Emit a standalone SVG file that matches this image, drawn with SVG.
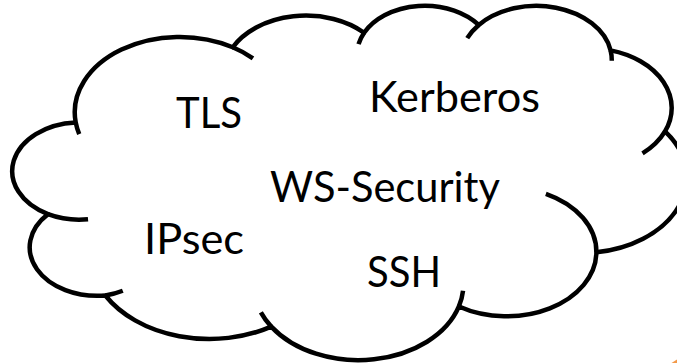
<svg xmlns="http://www.w3.org/2000/svg" width="677" height="363" viewBox="0 0 677 363">
  <style>
    .outline { fill: #ffffff; stroke: #000000; stroke-width: 4.5; stroke-linejoin: round; vector-effect: non-scaling-stroke; }
    .stub { fill: none; stroke: #000000; stroke-width: 4.5; stroke-linecap: butt; vector-effect: non-scaling-stroke; }
    .label { font-family: Lato, "Open Sans", "Liberation Sans", sans-serif; font-size: 43px; fill: #000000; }
  </style>
  <rect x="0" y="0" width="677" height="363" fill="#ffffff"/>

  <!-- cloud shape, drawn in a 43200 x 43200 unit box -->
  <g id="cloud" transform="translate(15.1,4.6) scale(0.01554,0.0082)">
    <path class="outline" d="M3900,14370
      A6753,9190 0 0 1 14005.6,5202.6
      A5333,7267 0 0 1 22459.6,3434.9
      A4365,5945 0 0 1 29836.3,2481.4
      A4857,6595 0 0 1 38320.7,5578
      A5333,7273 0 0 1 41820.8,15462.2
      A6775,9220 0 0 1 37406.4,30204.9
      A5785,7867 0 0 1 28558,36815.1
      A6752,9215 0 0 1 16484.5,39270.6
      A7720,10543 0 0 1 5807.7,35476.5
      A4360,5918 0 0 1 2118,25552.4
      A4345,5945 0 0 1 3900,14370 Z"/>
    <!-- inner arc ends where the puffs meet -->
    <path class="stub" d="M4693,26177 A4345,5945 0 0 1 2118,25552.4"/>
    <path class="stub" d="M6928,34899 A4360,5918 0 0 1 5807.7,35476.5"/>
    <path class="stub" d="M16484.5,39270.6 A6752,9215 0 0 1 15814.7,37527.1"/>
    <path class="stub" d="M28824.6,34906.3 A6752,9215 0 0 1 28558,36815.1"/>
    <path class="stub" d="M34154.7,23069.1 A5785,7867 0 0 1 37406.4,30204.9"/>
    <path class="stub" d="M41820.8,15462.2 A5333,7273 0 0 1 40373.4,18137.2"/>
    <path class="stub" d="M38320.7,5578 A4857,6595 0 0 1 38397.1,6841.5"/>
    <path class="stub" d="M29093.5,4095.2 A4857,6595 0 0 1 29836.3,2481.4"/>
    <path class="stub" d="M22100.9,4823.8 A4365,5945 0 0 1 22459.6,3434.9"/>
    <path class="stub" d="M14005.6,5202.6 A6753,9190 0 0 1 15305.1,6550.9"/>
    <path class="stub" d="M4126.7,15788.6 A6753,9190 0 0 1 3900,14370"/>
  </g>

  <g id="label-tls"><text class="label" x="176" y="128" textLength="66" lengthAdjust="spacingAndGlyphs">TLS</text></g>
  <g id="label-kerberos"><text class="label" x="369" y="112" textLength="171" lengthAdjust="spacingAndGlyphs">Kerberos</text></g>
  <g id="label-ws-security"><text class="label" x="270" y="202" textLength="230" lengthAdjust="spacingAndGlyphs">WS-Security</text></g>
  <g id="label-ipsec"><text class="label" x="144" y="254" textLength="100" lengthAdjust="spacingAndGlyphs">IPsec</text></g>
  <g id="label-ssh"><text class="label" x="367" y="287" textLength="74" lengthAdjust="spacingAndGlyphs">SSH</text></g>

  <!-- corner of a shape just inside the bottom-right edge -->
  <path d="M671.5,363 L677,359.5 L677,363 Z" fill="#f39a4a"/>
</svg>
